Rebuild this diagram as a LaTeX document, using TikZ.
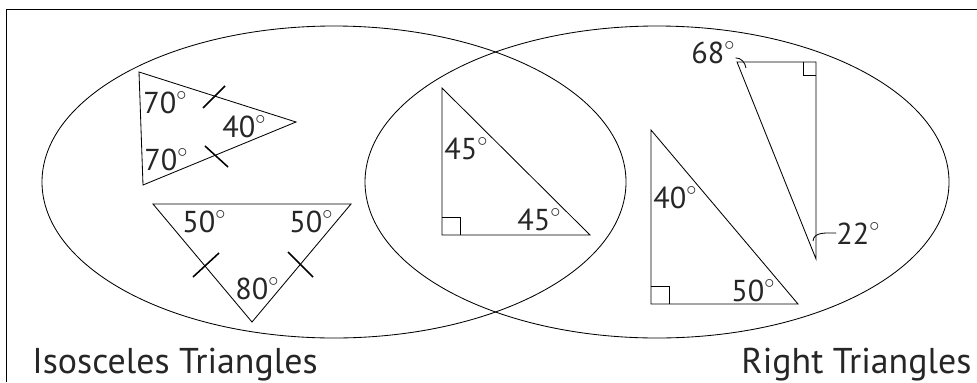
\documentclass[tikz,border=0pt]{standalone}
\usepackage{fontspec}
\setmainfont{PT Sans}
\newcommand{\dg}{\raisebox{0.15ex}{$^{\circ}$}}
\begin{document}
\begin{tikzpicture}[x=0.025cm,y=-0.025cm,line width=0.6pt,
    every node/.style={inner sep=0pt,anchor=base west,text=black!85,font=\fontsize{21.5}{24}\selectfont},
    setname/.style={font=\fontsize{25.5}{30}\selectfont},
    tick/.style={line width=1.1pt}]
  \useasboundingbox (0,0) rectangle (977,382);
  \draw (6,382) -- (6,9) -- (977,9);

  % the two sets
  \draw (334,182) ellipse [x radius=292,y radius=156];
  \draw (657,182) ellipse [x radius=292,y radius=156];
  \node[setname] (iso) at (32,373) {Isosceles Triangles};
  \node[setname] (right) at (741,373) {Right Triangles};

  % 70-70-40
  \coordinate (a1) at (139,72);
  \coordinate (b1) at (296,122);
  \coordinate (c1) at (143,185);
  \draw (a1) -- (b1) -- (c1) -- cycle;
  \draw[tick] (203,108) -- (225,86);
  \draw[tick] (205,146) -- (228,167);
  \node (t1a) at (143,113) {70\dg};
  \node (t1b) at (222,137) {40\dg};
  \node (t1c) at (144,170) {70\dg};

  % 50-50-80
  \coordinate (a2) at (153,204);
  \coordinate (b2) at (351,204);
  \coordinate (c2) at (252,322);
  \draw (a2) -- (b2) -- (c2) -- cycle;
  \draw[tick] (193,277) -- (219,253);
  \draw[tick] (288,252) -- (313,277);
  \node (t2a) at (182,232) {50\dg};
  \node (t2b) at (289,232) {50\dg};
  \node (t2c) at (235,299) {80\dg};

  % 45-45-90
  \coordinate (a3) at (442,88);
  \coordinate (b3) at (442,235);
  \coordinate (c3) at (590,235);
  \draw (a3) -- (b3) -- (c3) -- cycle;
  \draw (442,217) -| (460,235);
  \node (t3a) at (444,159) {45\dg};
  \node (t3b) at (517,230) {45\dg};

  % 40-50-90
  \coordinate (a4) at (651,130);
  \coordinate (b4) at (651,304);
  \coordinate (c4) at (798,304);
  \draw (a4) -- (b4) -- (c4) -- cycle;
  \draw (651,286) -| (669,304);
  \node (t4a) at (653,208) {40\dg};
  \node (t4b) at (731,301) {50\dg};

  % 68-22-90
  \coordinate (a5) at (737,62);
  \coordinate (b5) at (816,62);
  \coordinate (c5) at (816,259);
  \draw (a5) -- (b5) -- (c5) -- cycle;
  \draw (803,62) |- (816,75);
  \node (t5a) at (691,63) {68\dg};
  \node (t5b) at (836,244) {22\dg};
  \coordinate (p5a) at (746,68);
  \coordinate (p5b) at (813,241);
  \draw ([yshift=-4pt]t5a.east) to[out=0,in=100] (p5a);
  \draw (t5b.west) to[out=180,in=85] (p5b);
\end{tikzpicture}
\end{document}
